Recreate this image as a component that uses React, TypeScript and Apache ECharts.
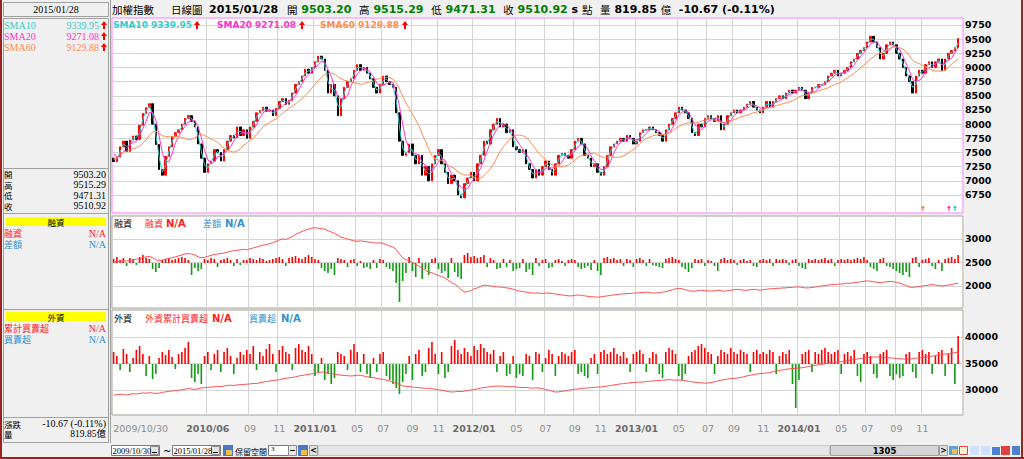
import React, { useEffect, useRef } from 'react';
import * as echarts from 'echarts';

// ---- data (one bin ≈ one trading week) ----
const preCloses = [6950, 7050, 7200, 7350, 7450, 7550, 7500, 7650, 7600, 7550, 7400];
const closes = [
  7340,7420,7600,7700,7520,7720,7790,7730,7980,8190,
  8290,8360,8000,7640,7200,7100,7430,7600,7780,7850,
  7900,8000,8100,8150,8050,7950,7650,7400,7150,7300,
  7350,7550,7500,7350,7550,7700,7800,7760,7950,7800,
  7900,7750,7950,8050,8200,8240,8300,8230,8250,8150,
  8280,8400,8450,8350,8420,8550,8700,8750,8850,8970,
  8900,9000,9100,9200,9150,8950,8550,8700,8500,8150,
  8450,8650,8750,8800,8950,9050,8950,9000,8900,8800,
  8650,8550,8700,8850,8750,8700,8650,8200,7700,7450,
  7500,7650,7450,7300,7450,7100,7250,7000,7300,7450,
  7550,7300,7150,6950,7100,7000,6750,6700,6950,7050,
  7150,7000,7300,7450,7700,7650,7900,8000,8100,7950,
  8000,7850,7900,7600,7550,7500,7550,7300,7200,7050,
  7200,7100,7250,7350,7200,7100,7300,7450,7480,7450,
  7400,7550,7700,7750,7650,7450,7400,7250,7300,7150,
  7100,7250,7450,7600,7650,7700,7750,7700,7800,7750,
  7650,7700,7850,7900,7900,7950,7900,7850,7800,7700,
  7900,8000,8100,8200,8300,8250,8200,8100,7850,7800,
  8000,7950,8100,8150,8100,8050,8150,7900,8000,8150,
  8200,8250,8200,8250,8300,8350,8400,8300,8250,8200,
  8300,8400,8300,8400,8450,8500,8450,8550,8600,8550,
  8600,8650,8600,8450,8550,8650,8650,8700,8700,8750,
  8850,8900,8950,8850,8900,8950,9000,9100,9150,9250,
  9300,9350,9450,9550,9450,9350,9150,9250,9400,9450,
  9400,9250,9150,9000,8850,8750,8550,8850,8950,8900,
  9050,9100,9000,9100,9150,8950,9150,9250,9300,9350,
  9510,
];
const marginBalance = [
  2510,2520,2530,2540,2530,2550,2560,2570,2580,2600,
  2620,2630,2600,2560,2540,2550,2570,2590,2600,2620,
  2640,2660,2680,2690,2680,2660,2620,2600,2610,2630,
  2650,2670,2680,2690,2700,2720,2740,2750,2760,2770,
  2780,2770,2790,2810,2830,2850,2870,2880,2900,2920,
  2950,2980,3000,2990,3020,3050,3100,3130,3160,3190,
  3210,3230,3240,3230,3220,3210,3180,3150,3120,3080,
  3040,3020,3000,2980,2960,2950,2960,2950,2940,2930,
  2920,2910,2920,2900,2880,2850,2830,2780,2680,2600,
  2560,2540,2500,2460,2420,2380,2330,2300,2280,2250,
  2220,2200,2170,2120,2080,2040,1990,1920,1870,1880,
  1900,1940,1960,1990,2020,2010,2000,1990,1980,1980,
  1970,1960,1950,1930,1910,1890,1880,1870,1860,1850,
  1850,1850,1840,1850,1850,1840,1830,1820,1810,1800,
  1790,1790,1800,1810,1800,1790,1780,1770,1770,1760,
  1770,1780,1790,1800,1810,1820,1830,1830,1840,1840,
  1850,1850,1860,1860,1870,1860,1850,1850,1860,1870,
  1880,1900,1920,1940,1950,1940,1920,1900,1890,1890,
  1900,1910,1900,1900,1890,1900,1910,1900,1890,1900,
  1910,1920,1930,1920,1910,1910,1920,1930,1920,1910,
  1920,1930,1940,1940,1950,1950,1960,1960,1970,1970,
  1980,1980,1970,1960,1960,1970,1980,1990,2000,2010,
  2020,2030,2030,2040,2040,2050,2060,2060,2070,2080,
  2090,2100,2110,2100,2090,2080,2070,2080,2090,2100,
  2090,2080,2060,2040,2010,1980,1970,1980,1990,2000,
  2010,2020,2030,2020,2010,2000,2010,2020,2030,2050,
  2060,
];
const marginDiff = [
  4,6,3,5,-3,5,4,-2,6,8,
  5,4,-6,-9,-5,3,4,5,3,4,
  5,6,5,3,-12,-5,-8,-6,4,3,
  5,4,-4,3,4,5,3,-3,4,-2,
  3,3,5,4,3,5,4,2,3,4,
  5,6,4,-3,5,6,7,5,4,6,
  8,6,4,3,-5,-8,-10,-6,-12,5,
  4,3,-4,3,4,-3,2,-5,-4,-6,
  3,-5,4,3,-4,-6,-8,-20,-39,-18,
  -10,6,-8,-14,5,-16,-6,-12,4,5,
  -6,-10,-8,-15,5,-9,-14,-16,8,10,
  6,7,5,6,8,-4,5,3,-6,-5,
  4,-4,3,-8,-6,-5,4,-9,-6,-12,
  5,-3,3,4,-5,-4,3,4,2,-3,
  3,4,3,-4,-6,-5,-3,-7,3,-8,
  -12,5,6,4,5,3,4,-3,4,3,
  -4,4,5,3,-3,4,-2,-3,-4,-5,
  4,5,6,4,3,-4,-6,-9,-5,4,
  3,4,-3,3,2,-3,-8,4,5,3,
  4,3,-2,3,4,2,3,-3,-4,3,
  4,3,4,-3,4,3,4,3,-2,3,
  4,-3,-5,-6,4,3,4,3,4,5,
  3,4,-3,3,4,3,4,3,4,5,
  4,6,3,-4,-6,-8,4,5,-3,-4,
  -6,-8,-10,-12,-9,-14,5,6,-4,3,
  4,5,-3,-6,3,-8,4,5,6,4,
  8,
];
const foreignCum = [
  29050,29100,29200,29150,29050,29200,29300,29250,29350,29450,
  29400,29500,29430,29350,29400,29550,29650,29750,29800,29900,
  29950,30050,30150,30300,30200,30100,30250,30380,30450,30500,
  30550,30600,30700,30650,30750,30850,30900,30850,30950,31000,
  31050,31100,31130,31250,31200,31350,31500,31600,31700,31800,
  31850,31950,32100,32200,32300,32350,32500,32640,32750,32850,
  32950,33050,33150,33300,33400,33350,33200,33100,32950,32900,
  32800,32750,32700,32640,32700,32800,32750,32650,32500,32400,
  32300,32200,32100,32000,31850,31700,31510,31300,31000,30800,
  30700,30650,30550,30500,30450,30380,30300,30350,30250,30150,
  30050,29950,29850,29700,29620,29650,29750,29700,29800,29900,
  30000,30100,30200,30350,30450,30550,30650,30700,30750,30750,
  30700,30650,30600,30650,30550,30500,30450,30500,30400,30350,
  30400,30380,30250,30100,29950,29800,29620,29650,29750,29850,
  29950,30050,30150,30200,30300,30350,30400,30450,30500,30550,
  30570,30650,30750,30850,30950,31050,31150,31200,31300,31350,
  31400,31450,31500,31510,31600,31650,31700,31750,31800,31850,
  31900,31950,31900,31850,31890,31850,31750,31650,31550,31450,
  31400,31350,31300,31320,31400,31550,31700,31850,31950,32050,
  32150,32200,32260,32350,32500,32650,32800,32900,33000,33100,
  33150,33210,33300,33450,33600,33700,33800,33900,34000,34050,
  34100,34150,34200,34300,34450,34550,34650,34750,34850,34950,
  35050,35150,35200,35280,35350,35450,35550,35650,35750,35850,
  35950,36050,36150,36200,36230,36250,36200,36150,36100,36050,
  36000,35950,35900,35850,35800,35850,35900,36000,36040,36100,
  36200,36300,36400,36500,36600,36700,36800,36850,36950,37050,
  37170,
];
const foreignNet = [
  12,8,-6,15,10,-8,6,14,18,10,
  -12,8,-15,-10,6,12,9,14,7,-5,
  10,12,16,22,-14,-18,-10,-20,8,12,
  -6,10,14,-8,12,16,8,-10,6,12,
  9,14,10,18,-6,12,8,15,20,10,
  -8,14,18,12,10,-6,16,20,14,12,
  18,10,-12,-8,6,-16,-10,-20,-14,12,
  10,8,-6,14,20,12,-8,10,-10,-14,
  6,-8,10,12,-12,-16,-20,-24,-30,-18,
  -10,8,-16,10,14,-12,-8,16,22,10,
  -10,12,-14,-8,18,24,14,10,16,12,
  8,18,14,20,16,12,10,14,-8,8,
  12,-12,-10,8,-14,-10,-12,10,8,-16,
  12,10,-8,6,14,10,-12,8,12,10,
  8,12,14,-10,-8,-12,-14,6,10,-10,
  12,14,10,12,16,10,8,12,6,-8,
  10,12,14,10,-8,6,12,10,-10,-14,
  12,16,14,10,-12,-16,-10,8,12,14,
  18,20,16,12,10,-10,8,14,12,10,
  16,12,10,14,12,10,-8,12,14,10,
  12,10,14,12,-10,8,12,10,14,-20,
  -44,-16,10,12,14,-8,12,10,14,16,
  12,10,12,14,-10,10,12,8,14,-12,
  -18,10,12,8,-10,-14,10,12,14,-12,
  -16,-10,-14,-12,10,12,-8,-14,12,14,
  10,12,-10,8,12,14,-12,10,16,-20,
  28,
];
const monthTicks: [number, string][] = [
  [0, '2009/10/30'], [29, '2010/06'], [42, '09'], [51, '11'], [62, '2011/01'], [75, '05'],
  [83, '07'], [92, '09'], [100, '11'], [111, '2012/01'], [124, '05'], [133, '07'], [142, '09'],
  [150, '11'], [161, '2013/01'], [174, '05'], [183, '07'], [191, '09'], [200, '11'],
  [211, '2014/01'], [224, '05'], [232, '07'], [241, '09'], [249, '11'],
];
const priceTicks = [6750, 7000, 7250, 7500, 7750, 8000, 8250, 8500, 8750, 9000, 9250, 9500, 9750];
const marginTicks = [2000, 2500, 3000];
const foreignTicks = [30000, 35000, 40000];

const C_SMA10 = '#33cccc';
const C_SMA20 = '#ff33cc';
const C_SMA60 = '#ff8c50';
const RED = '#ff2020';
const BLUE = '#3090d0';

function App() {
  const ref = useRef<HTMLDivElement>(null);
  useEffect(() => {
    if (!ref.current) return;
    const chart = echarts.init(ref.current, undefined, { renderer: 'svg' });

    const categories: string[] = [];
    for (let i = 0; i <= closes.length; i++) categories.push('_' + i);
    monthTicks.forEach(([i, l]) => { categories[i] = l; });
    const isTick = (v: string) => !v.startsWith('_');

    const all = [...preCloses, ...closes];
    const candles = closes.map((c, i) => {
      const o = all[i + preCloses.length - 1];
      return [o, c, Math.min(o, c), Math.max(o, c)];
    });
    const sma = (n: number) => closes.map((_, i) => {
      const end = i + preCloses.length;
      let s = 0;
      for (let k = end - n + 1; k <= end; k++) s += all[k];
      return +(s / n).toFixed(2);
    });

    const SERIF = "'Liberation Serif', 'Noto Sans CJK TC'";
    const CJK = "'Noto Sans CJK TC'";
    const T = (x: number, y: number, text: string, fill: string, font: string, align = 'left', extra: any = {}) =>
      ({ type: 'text', x, y, silent: true, z: 10, style: { text, fill, font, align, verticalAlign: 'middle', ...extra } });
    const R = (x: number, y: number, w: number, h: number, fill: string, stroke?: string) =>
      ({ type: 'rect', silent: true, z: 5, shape: { x, y, width: w, height: h }, style: { fill, stroke: stroke || null, lineWidth: 1 } });
    const L = (x1: number, y1: number, x2: number, y2: number, stroke: string, lw = 1) =>
      ({ type: 'line', silent: true, z: 6, shape: { x1, y1, x2, y2 }, style: { stroke, lineWidth: lw } });
    const ARROW = (cx: number, cy: number, fill: string, s = 1) =>
      ({ type: 'polygon', silent: true, z: 10, shape: { points: [[cx, cy - 4 * s], [cx + 3 * s, cy], [cx + 1 * s, cy], [cx + 1 * s, cy + 4 * s], [cx - 1 * s, cy + 4 * s], [cx - 1 * s, cy], [cx - 3 * s, cy]] }, style: { fill } });

    const f10s = `10px ${SERIF}`;
    const f9c = `9px ${CJK}`;
    const f85c = `8.5px ${CJK}`;
    const graphics: any[] = [
      // left panel
      R(3.5, 2.5, 105, 14, '#f0f0f0', '#a0a0a0'),
      T(56, 9.5, '2015/01/28', '#000', f10s, 'center'),
      R(3.5, 18.5, 105, 424, '#f0f0f0', '#a0a0a0'),
      T(4, 25, 'SMA10', C_SMA10, f10s), T(99, 25, '9339.95', C_SMA10, f10s, 'right'), ARROW(104, 25, '#ff0000'),
      T(4, 36, 'SMA20', C_SMA20, f10s), T(99, 36, '9271.08', C_SMA20, f10s, 'right'), ARROW(104, 36, '#ff0000'),
      T(4, 47, 'SMA60', C_SMA60, f10s), T(99, 47, '9129.88', C_SMA60, f10s, 'right'), ARROW(104, 47, '#ff0000'),
      L(3.5, 168.5, 108.5, 168.5, '#a0a0a0'),
      T(4, 174, '開', '#000', f85c), T(106, 174, '9503.20', '#000', f10s, 'right'),
      T(4, 184.5, '高', '#000', f85c), T(106, 184.5, '9515.29', '#000', f10s, 'right'),
      T(4, 195, '低', '#000', f85c), T(106, 195, '9471.31', '#000', f10s, 'right'),
      T(4, 205.5, '收', '#000', f85c), T(106, 205.5, '9510.92', '#000', f10s, 'right'),
      L(3.5, 213.5, 108.5, 213.5, '#a0a0a0'),
      R(6, 217, 100, 9, '#ffff00'),
      T(56, 221.5, '融資', '#000', f85c, 'center'),
      T(4, 233, '融資', RED, f9c), T(106, 233, 'N/A', RED, f10s, 'right'),
      T(4, 244, '差額', BLUE, f9c), T(106, 244, 'N/A', BLUE, f10s, 'right'),
      L(3.5, 309.5, 108.5, 309.5, '#a0a0a0'),
      R(6, 312, 100, 9, '#ffff00'),
      T(56, 316.5, '外資', '#000', f85c, 'center'),
      T(4, 328, '累計買賣超', RED, f9c), T(106, 328, 'N/A', RED, f10s, 'right'),
      T(4, 339, '買賣超', BLUE, f9c), T(106, 339, 'N/A', BLUE, f10s, 'right'),
      L(3.5, 417.5, 108.5, 417.5, '#a0a0a0'),
      T(4, 423.5, '漲跌', '#000', f85c), T(106, 423.5, '-10.67 (-0.11%)', '#000', f10s, 'right'),
      T(4, 434, '量', '#000', f85c), T(106, 434, '819.85億', '#000', `9.5px ${SERIF}`, 'right'),
      L(110.5, 0, 110.5, 443, '#a0a0a0'),
      // header
      T(112, 9, '加權指數', '#000', `10.5px ${CJK}`),
      T(171, 9, '日線圖', '#000', `10.5px ${CJK}`),
      T(209, 9, '2015/01/28', '#000', "bold 11px 'DejaVu Sans'"),
      {
        type: 'text', x: 287, y: 9, silent: true, z: 10,
        style: {
          text: '{c|開} {g|9503.20}  {c|高} {g|9515.29}  {c|低} {g|9471.31}  {c|收} {g|9510.92} {b|s} {c|點}  {c|量} {b|819.85} {c|億}  {b|-10.67 (-0.11%)}',
          font: "bold 11px 'DejaVu Sans'", fill: '#000', verticalAlign: 'middle',
          rich: {
            c: { fontSize: 10.5, fontFamily: CJK, fontWeight: 'normal', fill: '#000' },
            g: { fontSize: 11, fontFamily: 'DejaVu Sans', fontWeight: 'bold', fill: '#008000' },
            b: { fontSize: 11, fontFamily: 'DejaVu Sans', fontWeight: 'bold', fill: '#000' },
          },
        },
      },
      // top panel legend
      T(113, 25, 'SMA10 9339.95', C_SMA10, "bold 9px 'DejaVu Sans'"), ARROW(197, 25, '#ff0000'),
      T(217, 25, 'SMA20 9271.08', C_SMA20, "bold 9px 'DejaVu Sans'"), ARROW(302, 25, '#ff0000'),
      T(320, 25, 'SMA60 9129.88', C_SMA60, "bold 9px 'DejaVu Sans'"), ARROW(405, 25, '#ff0000'),
      ARROW(923, 208, C_SMA60, 0.7), ARROW(949, 208, C_SMA20, 0.7), ARROW(955, 208, C_SMA10, 0.7),
      // middle header
      T(114, 223, '融資', '#000', f9c),
      T(145, 223, '融資', RED, f9c),
      T(166, 223, 'N/A', RED, "bold 10px 'DejaVu Sans'"),
      T(203, 223, '差額', BLUE, f9c),
      T(225, 223, 'N/A', BLUE, "bold 10px 'DejaVu Sans'"),
      // bottom header
      T(114, 318, '外資', '#000', f9c),
      T(145, 318, '外資累計買賣超', RED, f9c),
      T(212, 318, 'N/A', RED, "bold 10px 'DejaVu Sans'"),
      T(249, 318, '買賣超', BLUE, f9c),
      T(281, 318, 'N/A', BLUE, "bold 10px 'DejaVu Sans'"),
      // toolbar
      R(111.5, 445.5, 48, 10, '#ffffff', '#7a7a7a'),
      T(112.5, 450.5, '2009/10/30', '#000', `8.5px ${SERIF}`),
      R(150.5, 446.5, 8, 8, '#e4e4e4', '#909090'),
      L(152, 452.5, 157, 452.5, '#000'),
      T(163, 451, '~', '#000', "10px 'DejaVu Sans'"),
      R(172.5, 445.5, 48, 10, '#ffffff', '#7a7a7a'),
      T(173.5, 450.5, '2015/01/28', '#000', `8.5px ${SERIF}`),
      R(211.5, 446.5, 8, 8, '#e4e4e4', '#909090'),
      L(213, 452.5, 218, 452.5, '#000'),
      R(223, 445, 10, 11, '#4a78c8'),
      R(226, 450, 6, 5, '#f0c040'),
      T(235, 451, '保留空間', '#000', `8px ${CJK}`),
      R(268.5, 445.5, 20, 10, '#ffffff', '#7a7a7a'),
      T(271, 449, '3', '#000', `7px ${SERIF}`),
      R(288.5, 445.5, 8, 10, '#e8e8e8', '#888'),
      L(290, 450.5, 295, 450.5, '#000'),
      R(298, 445, 10, 11, '#4a78c8'),
      R(301, 450, 6, 5, '#f0c040'),
      R(309.5, 445.5, 8, 10, '#e0e0e0', '#a0a0a0'),
      T(313.5, 450.5, '<', '#000', "bold 8px 'DejaVu Sans'", 'center'),
      R(318.5, 445.5, 511, 10, '#e6e6e6', '#c8c8c8'),
      R(830.5, 445.5, 108, 10, '#d6d6d6', '#a0a0a0'),
      T(884.5, 450.5, '1305', '#000', "bold 8.5px 'DejaVu Sans'", 'center'),
      R(939.5, 445.5, 8, 10, '#e0e0e0', '#a0a0a0'),
      T(943.5, 450.5, '>', '#000', "bold 8px 'DejaVu Sans'", 'center'),
      R(949, 446, 9, 9, '#60a0e0'), R(952, 449, 5, 5, '#f0c040'),
      R(959.5, 446.5, 8, 8, '#fff4d0', '#e04040'),
      R(970, 446, 9, 9, '#d0e0ff'), R(981, 446, 9, 9, '#d0e0ff'),
      R(992, 447, 8, 8, '#5080d0'), R(1001, 446, 9, 9, '#e04040'), R(1012, 446, 8, 9, '#5080d0'),
      // outer frame
      L(1, 0, 1, 459, '#a02020', 2),
      L(1022, 0, 1022, 459, '#a02020', 2),
      L(0, 458, 1024, 458, '#a02020', 2),
    ];

    const xAxisBase = (g: number) => ({
      type: 'category', gridIndex: g, data: categories, boundaryGap: true,
      axisLine: { show: false }, axisTick: { show: false },
      axisLabel: g === 2 ? {
        show: true, interval: (_i: number, v: string) => isTick(v), margin: 8,
        fontFamily: 'DejaVu Sans', fontSize: 9.5, color: '#8c8c8c',
        formatter: (v: string) => isTick(v) ? (v.length > 7 ? `{s|${v}}` : v.includes('/') ? `{y|${v}}` : `{m|${v}}`) : '',
        rich: {
          s: { fontFamily: 'DejaVu Sans', fontSize: 9.5, color: '#8c8c8c', padding: [0, 0, 0, 54] },
          y: { fontFamily: 'DejaVu Sans', fontSize: 9.5, color: '#6a6a6a', fontWeight: 'bold' },
          m: { fontFamily: 'DejaVu Sans', fontSize: 9.5, color: '#8c8c8c' },
        },
      } : { show: false },
      splitLine: { show: true, interval: (i: number, v: string) => i !== 0 && isTick(v), lineStyle: { color: '#d4d4d4', width: 1 } },
    });
    const yLabel = { fontFamily: 'DejaVu Sans', fontSize: 9.5, fontWeight: 'bold', color: '#000', margin: 2, formatter: (v: number) => String(v) };
    const ySplit = { show: true, lineStyle: { color: '#d4d4d4', width: 1 } };
    const barColor = (p: any) => (p.value >= 0 ? '#ff0000' : '#119911');

    const option: any = {
      animation: false,
      backgroundColor: '#f0f0f0',
      graphic: { elements: graphics },
      grid: [
        { left: 112, top: 18, width: 851, height: 195, show: true, backgroundColor: '#ffffff', borderColor: '#ff80ff', borderWidth: 1 },
        { left: 112, top: 216, width: 851, height: 92, show: true, backgroundColor: '#ffffff', borderColor: '#a8a098', borderWidth: 1 },
        { left: 112, top: 310, width: 851, height: 105, show: true, backgroundColor: '#ffffff', borderColor: '#a8a098', borderWidth: 1 },
      ],
      xAxis: [xAxisBase(0), xAxisBase(1), xAxisBase(2)],
      yAxis: [
        { type: 'value', gridIndex: 0, position: 'right', min: 6432, max: 9873.5, axisLine: { show: false },
          axisTick: { show: false, customValues: priceTicks }, axisLabel: { ...yLabel, customValues: priceTicks }, splitLine: ySplit },
        { type: 'value', gridIndex: 1, position: 'right', min: 1532, max: 3489, axisLine: { show: false },
          axisTick: { show: false, customValues: marginTicks }, axisLabel: { ...yLabel, customValues: marginTicks }, splitLine: ySplit },
        { type: 'value', gridIndex: 1, min: -45, max: 47, show: false, splitLine: { show: false } },
        { type: 'value', gridIndex: 2, position: 'right', min: 25283, max: 45094, axisLine: { show: false },
          axisTick: { show: false, customValues: foreignTicks }, axisLabel: { ...yLabel, customValues: foreignTicks }, splitLine: ySplit },
        { type: 'value', gridIndex: 2, min: -51, max: 54, show: false, splitLine: { show: false } },
      ],
      series: [
        { type: 'candlestick', xAxisIndex: 0, yAxisIndex: 0, data: candles, barWidth: '60%', silent: true,
          itemStyle: { color: '#ff0000', color0: '#000000', borderColor: '#ff0000', borderColor0: '#000000', borderWidth: 1 } },
        { type: 'line', name: 'SMA10', xAxisIndex: 0, yAxisIndex: 0, data: sma(2), symbol: 'none', silent: true, lineStyle: { color: C_SMA10, width: 1 } },
        { type: 'line', name: 'SMA20', xAxisIndex: 0, yAxisIndex: 0, data: sma(4), symbol: 'none', silent: true, lineStyle: { color: C_SMA20, width: 1 } },
        { type: 'line', name: 'SMA60', xAxisIndex: 0, yAxisIndex: 0, data: sma(12), symbol: 'none', silent: true, lineStyle: { color: C_SMA60, width: 1 } },
        { type: 'bar', xAxisIndex: 1, yAxisIndex: 2, data: marginDiff, barWidth: 1.6, silent: true, itemStyle: { color: barColor } },
        { type: 'line', xAxisIndex: 1, yAxisIndex: 1, data: marginBalance, symbol: 'none', silent: true, lineStyle: { color: '#ff5050', width: 1 } },
        { type: 'bar', xAxisIndex: 2, yAxisIndex: 4, data: foreignNet, barWidth: 1.6, silent: true, itemStyle: { color: barColor } },
        { type: 'line', xAxisIndex: 2, yAxisIndex: 3, data: foreignCum, symbol: 'none', silent: true, lineStyle: { color: '#ff5050', width: 1 } },
      ],
    };
    chart.setOption(option);
    return () => chart.dispose();
  }, []);
  return <div ref={ref} style={{ position: 'absolute', left: 0, top: 0, width: 1024, height: 459 }} />;
}

export default App;
